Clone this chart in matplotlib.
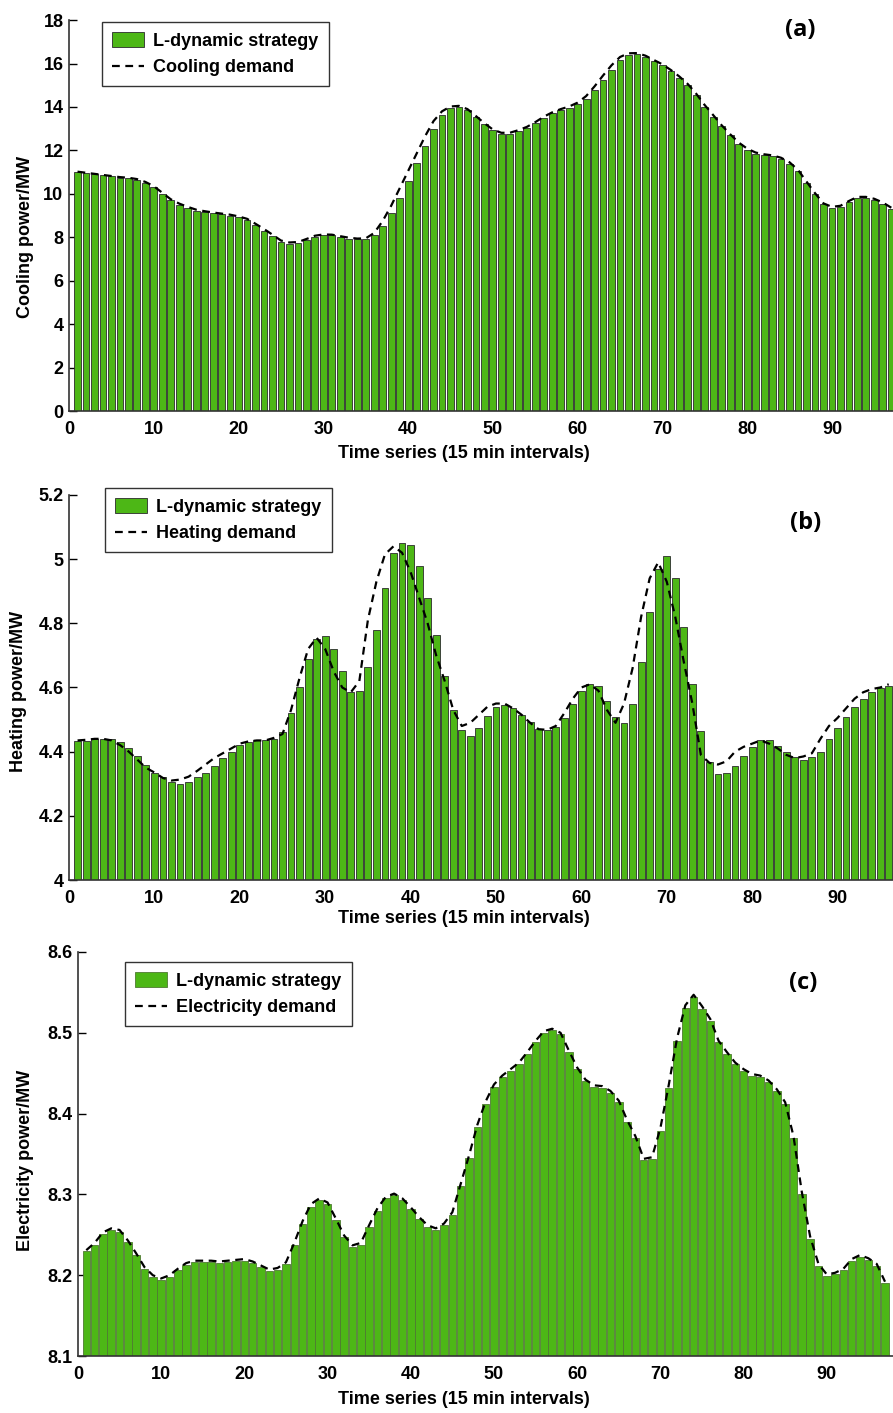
import matplotlib
matplotlib.use("Agg")
import matplotlib.pyplot as plt
from matplotlib.ticker import FormatStrFormatter, MultipleLocator

plt.rcParams["font.family"] = ["Liberation Sans Narrow", "Liberation Sans", "DejaVu Sans"]
plt.rcParams["font.weight"] = "bold"

# (a) cooling, 97 intervals
cool_supply = [11.0, 10.95, 10.9, 10.85, 10.8, 10.75, 10.72, 10.65, 10.5, 10.3,
               10.0, 9.7, 9.5, 9.35, 9.22, 9.15, 9.1, 9.05, 9.0, 8.92,
               8.8, 8.55, 8.3, 8.05, 7.78, 7.7, 7.72, 7.86, 8.02, 8.09,
               8.09, 8.02, 7.94, 7.9, 7.9, 8.1, 8.5, 9.1, 9.8, 10.6,
               11.4, 12.2, 13.0, 13.65, 13.96, 14.02, 13.87, 13.53, 13.2, 12.92,
               12.77, 12.77, 12.89, 13.03, 13.25, 13.5, 13.7, 13.85, 13.97, 14.12,
               14.38, 14.76, 15.22, 15.68, 16.14, 16.4, 16.45, 16.32, 16.11, 15.91,
               15.65, 15.34, 14.99, 14.53, 14.02, 13.56, 13.1, 12.69, 12.31, 12.03,
               11.85, 11.77, 11.72, 11.62, 11.39, 11.05, 10.5, 9.98, 9.52, 9.36,
               9.4, 9.62, 9.82, 9.82, 9.73, 9.55, 9.32]
cool_demand = [11.02, 10.97, 10.92, 10.87, 10.82, 10.77, 10.74, 10.68, 10.55, 10.35,
               10.05, 9.75, 9.55, 9.4, 9.27, 9.2, 9.14, 9.09, 9.04, 8.96,
               8.85, 8.62, 8.38, 8.12, 7.85, 7.76, 7.78, 7.92, 8.07, 8.13,
               8.12, 8.05, 7.98, 7.94, 7.95, 8.2, 8.75, 9.45, 10.25, 11.05,
               11.85, 12.65, 13.35, 13.8, 14.02, 14.05, 13.9, 13.58, 13.25, 12.96,
               12.81, 12.81, 12.93, 13.08, 13.3, 13.55, 13.75, 13.9, 14.02, 14.2,
               14.5, 14.95, 15.45, 15.92, 16.3, 16.47, 16.48, 16.36, 16.16, 15.96,
               15.7, 15.4, 15.05, 14.6, 14.08, 13.62, 13.15, 12.74, 12.36, 12.08,
               11.9, 11.82, 11.77, 11.66, 11.45, 11.1, 10.56, 10.03, 9.56, 9.4,
               9.45, 9.67, 9.86, 9.86, 9.77, 9.6, 9.36]

# (b) heating, 96 intervals
heat_supply = [4.432, 4.434, 4.44, 4.44, 4.44, 4.43, 4.41, 4.385, 4.36, 4.335,
               4.32, 4.305, 4.30, 4.305, 4.32, 4.335, 4.355, 4.38, 4.40, 4.42,
               4.43, 4.435, 4.435, 4.44, 4.46, 4.52, 4.60, 4.69, 4.75, 4.76,
               4.72, 4.65, 4.585, 4.59, 4.665, 4.78, 4.91, 5.02, 5.05, 5.045,
               4.98, 4.88, 4.765, 4.635, 4.53, 4.467, 4.45, 4.475, 4.51, 4.54,
               4.545, 4.535, 4.515, 4.494, 4.47, 4.466, 4.477, 4.505, 4.55, 4.59,
               4.612, 4.604, 4.557, 4.508, 4.49, 4.55, 4.68, 4.835, 4.97, 5.01,
               4.94, 4.79, 4.61, 4.463, 4.367, 4.331, 4.333, 4.356, 4.388, 4.415,
               4.435, 4.435, 4.419, 4.40, 4.383, 4.375, 4.383, 4.40, 4.44, 4.473,
               4.508, 4.54, 4.565, 4.585, 4.598, 4.604]
heat_demand = [4.435, 4.437, 4.44, 4.44, 4.435, 4.42, 4.40, 4.375, 4.35, 4.335,
               4.318, 4.31, 4.313, 4.322, 4.34, 4.36, 4.38, 4.395, 4.41, 4.425,
               4.432, 4.435, 4.435, 4.443, 4.455, 4.53, 4.63, 4.72, 4.755, 4.72,
               4.65, 4.60, 4.585, 4.62, 4.81, 4.93, 5.015, 5.04, 5.02, 4.96,
               4.88, 4.80, 4.70, 4.62, 4.53, 4.48, 4.49, 4.515, 4.54, 4.55,
               4.55, 4.535, 4.515, 4.49, 4.47, 4.468, 4.48, 4.52, 4.565, 4.60,
               4.61, 4.59, 4.53, 4.49, 4.55, 4.66, 4.82, 4.94, 4.99, 4.93,
               4.82, 4.68, 4.55, 4.39, 4.365, 4.36, 4.37, 4.40, 4.415, 4.425,
               4.435, 4.425, 4.41, 4.39, 4.38, 4.385, 4.395, 4.44, 4.48, 4.505,
               4.535, 4.565, 4.585, 4.595, 4.60, 4.61]

# (c) electricity, 97 intervals
elec_supply = [8.23, 8.238, 8.251, 8.256, 8.254, 8.241, 8.225, 8.208, 8.198, 8.194,
               8.198, 8.206, 8.213, 8.216, 8.216, 8.216, 8.215, 8.216, 8.217, 8.218,
               8.215, 8.21, 8.205, 8.207, 8.214, 8.237, 8.264, 8.285, 8.293, 8.288,
               8.268, 8.247, 8.235, 8.238, 8.26, 8.28, 8.295, 8.299, 8.293, 8.282,
               8.27, 8.26, 8.256, 8.262, 8.275, 8.31, 8.345, 8.383, 8.412, 8.433,
               8.445, 8.453, 8.461, 8.474, 8.488, 8.5, 8.503, 8.498, 8.476, 8.455,
               8.44, 8.433, 8.432, 8.426, 8.414, 8.39, 8.37, 8.342, 8.344, 8.379,
               8.432, 8.49, 8.531, 8.544, 8.53, 8.515, 8.488, 8.474, 8.461, 8.453,
               8.447, 8.445, 8.439, 8.428, 8.412, 8.37, 8.30, 8.245, 8.212, 8.199,
               8.201, 8.206, 8.218, 8.223, 8.219, 8.212, 8.19]
elec_demand = [8.231, 8.24, 8.253, 8.258, 8.256, 8.243, 8.227, 8.21, 8.2, 8.196,
               8.2, 8.208, 8.215, 8.218, 8.218, 8.218, 8.217, 8.218, 8.219, 8.22,
               8.217, 8.212, 8.207, 8.209, 8.216, 8.24, 8.267, 8.288, 8.295, 8.29,
               8.27, 8.249, 8.237, 8.24, 8.262, 8.283, 8.297, 8.301, 8.295, 8.284,
               8.272, 8.262, 8.258, 8.264, 8.278, 8.313, 8.348, 8.386, 8.415, 8.436,
               8.447, 8.455, 8.463, 8.476, 8.49, 8.502, 8.505, 8.5, 8.478, 8.457,
               8.442, 8.435, 8.434, 8.428, 8.416, 8.392, 8.372, 8.344, 8.346, 8.382,
               8.435, 8.493, 8.534, 8.547, 8.533, 8.517, 8.49, 8.476, 8.463, 8.455,
               8.449, 8.447, 8.441, 8.43, 8.414, 8.372, 8.303, 8.248, 8.214, 8.201,
               8.203, 8.208, 8.22, 8.225, 8.221, 8.214, 8.192]

panels = [
    dict(supply=cool_supply, demand=cool_demand, ylim=(0, 18), step=2, fmt="%g",
         ylabel="Cooling power/MW", dlabel="Cooling demand", tag="(a)",
         rect=[0.0773, 0.7091, 0.9227, 0.2767], xmax=97.2,
         leg=(0.1142, 0.9844), tagpos=(0.896, 0.979), xl_y=0.679, yl=(0.029, 0.832),
         width=0.8, edge="#2b2b2b"),
    dict(supply=heat_supply, demand=heat_demand, ylim=(4, 5.2), step=0.2, fmt="%g",
         ylabel="Heating power/MW", dlabel="Heating demand", tag="(b)",
         rect=[0.0773, 0.3772, 0.9227, 0.2725], xmax=96.5,
         leg=(0.1176, 0.6546), tagpos=(0.902, 0.630), xl_y=0.350, yl=(0.021, 0.511),
         width=0.8, edge="#2b2b2b"),
    dict(supply=elec_supply, demand=elec_demand, ylim=(8.1, 8.6), step=0.1, fmt="%.1f",
         ylabel="Electricity power/MW", dlabel="Electricity demand", tag="(c)",
         rect=[0.0873, 0.0403, 0.9127, 0.2860], xmax=97.96,
         leg=(0.14, 0.3192), tagpos=(0.899, 0.304), xl_y=0.0095, yl=(0.028, 0.179),
         width=0.9, edge="#4f7a32"),
]

fig = plt.figure(figsize=(8.93, 14.13), dpi=100)

for p in panels:
    ax = fig.add_axes(p["rect"])
    t = list(range(1, len(p["supply"]) + 1))
    base = p["ylim"][0]
    heights = [v - base for v in p["supply"]]
    bars = ax.bar(t, heights, bottom=base, width=p["width"], color="#4db716",
                  edgecolor=p["edge"], linewidth=0.6, label="L-dynamic strategy", zorder=2)
    line, = ax.plot(t, p["demand"], color="black", linestyle=(0, (3.5, 2.5)),
                    linewidth=1.6, label=p["dlabel"], zorder=3)
    ax.set_xlim(0, p["xmax"])
    ax.set_ylim(*p["ylim"])
    ax.yaxis.set_major_locator(MultipleLocator(p["step"]))
    ax.yaxis.set_major_formatter(FormatStrFormatter(p["fmt"]))
    ax.set_xticks(list(range(0, 100, 10)))
    ax.xaxis.set_major_formatter(FormatStrFormatter("%d"))
    ax.tick_params(axis="y", direction="in", length=6, width=1.0, labelsize=13, pad=4)
    ax.tick_params(axis="x", direction="in", length=0, labelsize=13, pad=7)
    for lab in ax.get_xticklabels() + ax.get_yticklabels():
        lab.set_fontweight("bold")
    for s in ["top", "right"]:
        ax.spines[s].set_visible(False)
    for s in ["left", "bottom"]:
        ax.spines[s].set_color("#333333")
        ax.spines[s].set_linewidth(1.2)
    fig.text(0.52, p["xl_y"], "Time series (15 min intervals)", ha="center", va="center",
             fontsize=13, fontweight="bold")
    fig.text(p["yl"][0], p["yl"][1], p["ylabel"], rotation=90, ha="center", va="center",
             fontsize=13, fontweight="bold")
    fig.text(p["tagpos"][0], p["tagpos"][1], p["tag"], ha="center", va="center",
             fontsize=17, fontweight="bold", family=["Open Sans", "DejaVu Sans"])
    leg = ax.legend(handles=[bars, line], loc="upper left", bbox_to_anchor=p["leg"],
                    bbox_transform=fig.transFigure, fontsize=13, frameon=True,
                    fancybox=False, edgecolor="black", handlelength=1.8,
                    handleheight=0.9, borderpad=0.55, labelspacing=0.5,
                    handletextpad=0.5, borderaxespad=0)
    leg.get_frame().set_linewidth(1.0)
    for txt in leg.get_texts():
        txt.set_fontweight("bold")

fig.savefig("out.png", dpi=100)
